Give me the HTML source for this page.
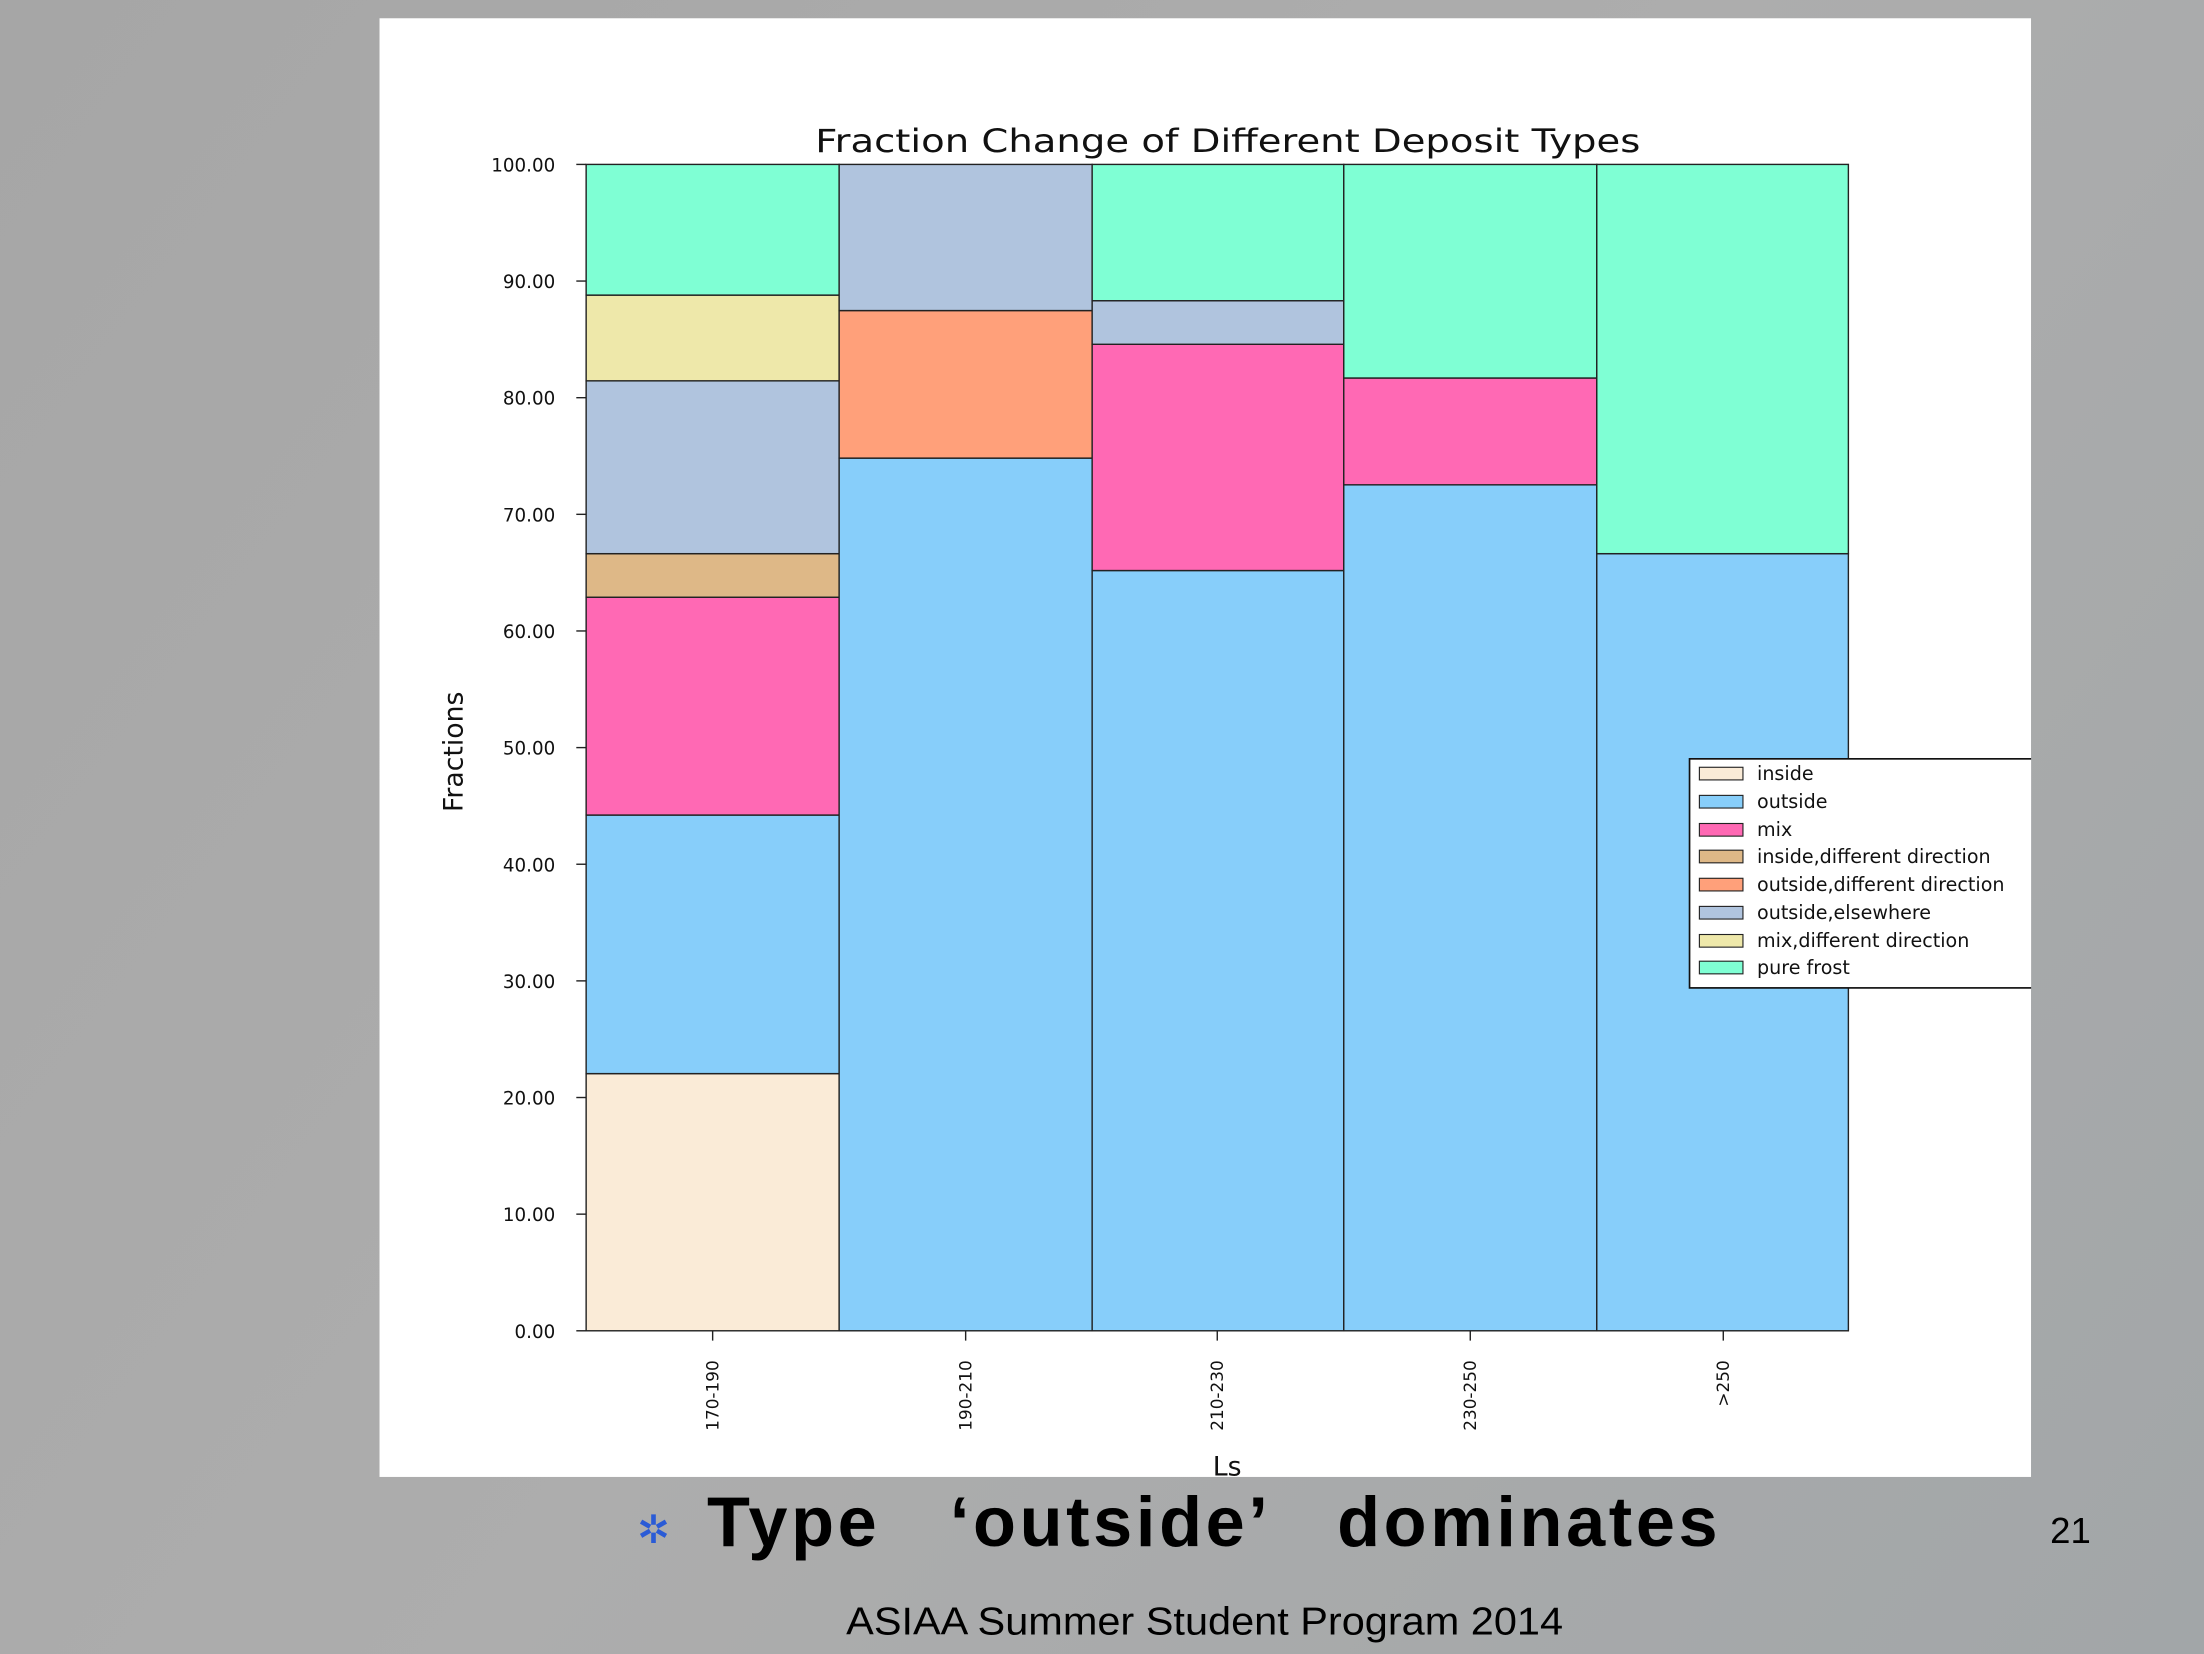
<!DOCTYPE html>
<html><head><meta charset="utf-8"><style>
html,body{margin:0;padding:0;width:2204px;height:1654px;overflow:hidden;background:#a9a9a9}
svg{display:block}
</style></head><body>
<svg width="2204" height="1654" viewBox="0 0 1568 1177" preserveAspectRatio="none" xmlns="http://www.w3.org/2000/svg" font-family="'DejaVu Sans','Liberation Sans',sans-serif">
<defs>
<linearGradient id="bg" gradientUnits="userSpaceOnUse" x1="0" y1="0" x2="1568" y2="1177">
<stop offset="0" stop-color="#a6a6a6"/><stop offset="0.5" stop-color="#adadad"/><stop offset="1" stop-color="#a2a6a8"/>
</linearGradient>
</defs>
<rect width="1568" height="1177" fill="url(#bg)"/>
<rect x="270" y="13" width="1175" height="1038" fill="#fff"/>
<text x="580" y="108" font-size="23" textLength="587" lengthAdjust="spacingAndGlyphs" fill="#111">Fraction Change of Different Deposit Types</text>
<g stroke="#222" stroke-width="1">
<rect x="417" y="764" width="180" height="183" fill="#FAEBD7"/>
<rect x="417" y="580" width="180" height="184" fill="#87CEFA"/>
<rect x="417" y="425" width="180" height="155" fill="#FF69B4"/>
<rect x="417" y="394" width="180" height="31" fill="#DEB887"/>
<rect x="417" y="271" width="180" height="123" fill="#B0C4DE"/>
<rect x="417" y="210" width="180" height="61" fill="#EEE8AA"/>
<rect x="417" y="117" width="180" height="93" fill="#7FFFD4"/>
<rect x="597" y="326" width="180" height="621" fill="#87CEFA"/>
<rect x="597" y="221" width="180" height="105" fill="#FFA07A"/>
<rect x="597" y="117" width="180" height="104" fill="#B0C4DE"/>
<rect x="777" y="406" width="179" height="541" fill="#87CEFA"/>
<rect x="777" y="245" width="179" height="161" fill="#FF69B4"/>
<rect x="777" y="214" width="179" height="31" fill="#B0C4DE"/>
<rect x="777" y="117" width="179" height="97" fill="#7FFFD4"/>
<rect x="956" y="345" width="180" height="602" fill="#87CEFA"/>
<rect x="956" y="269" width="180" height="76" fill="#FF69B4"/>
<rect x="956" y="117" width="180" height="152" fill="#7FFFD4"/>
<rect x="1136" y="394" width="179" height="553" fill="#87CEFA"/>
<rect x="1136" y="117" width="179" height="277" fill="#7FFFD4"/>
</g>
<g stroke="#222" stroke-width="1">
<line x1="410" y1="117" x2="417" y2="117"/><line x1="410" y1="200" x2="417" y2="200"/><line x1="410" y1="283" x2="417" y2="283"/><line x1="410" y1="366" x2="417" y2="366"/><line x1="410" y1="449" x2="417" y2="449"/><line x1="410" y1="532" x2="417" y2="532"/><line x1="410" y1="615" x2="417" y2="615"/><line x1="410" y1="698" x2="417" y2="698"/><line x1="410" y1="781" x2="417" y2="781"/><line x1="410" y1="864" x2="417" y2="864"/><line x1="410" y1="947" x2="417" y2="947"/>
<line x1="507" y1="947" x2="507" y2="954"/><line x1="687" y1="947" x2="687" y2="954"/><line x1="866" y1="947" x2="866" y2="954"/><line x1="1046" y1="947" x2="1046" y2="954"/><line x1="1226" y1="947" x2="1226" y2="954"/>
</g>
<g font-size="13" fill="#111" text-anchor="end">
<text x="395" y="122">100.00</text><text x="395" y="205">90.00</text><text x="395" y="288">80.00</text><text x="395" y="371">70.00</text><text x="395" y="454">60.00</text><text x="395" y="537">50.00</text><text x="395" y="620">40.00</text><text x="395" y="703">30.00</text><text x="395" y="786">20.00</text><text x="395" y="869">10.00</text><text x="395" y="952">0.00</text>
</g>
<g font-size="12" fill="#111" text-anchor="end">
<text transform="translate(511,968) rotate(-90)">170-190</text>
<text transform="translate(691,968) rotate(-90)">190-210</text>
<text transform="translate(870,968) rotate(-90)">210-230</text>
<text transform="translate(1050,968) rotate(-90)">230-250</text>
<text transform="translate(1230,968) rotate(-90)">&gt;250</text>
</g>
<text transform="translate(329,535) rotate(-90)" font-size="19" text-anchor="middle" fill="#111">Fractions</text>
<text x="873" y="1050" font-size="19" text-anchor="middle" fill="#111">Ls</text>
<rect x="1202" y="540" width="250" height="163" fill="#fff" stroke="#111" stroke-width="1.2"/>
<g stroke="#222" stroke-width="0.8">
<rect x="1209" y="546" width="31" height="9" fill="#FAEBD7"/>
<rect x="1209" y="566" width="31" height="9" fill="#87CEFA"/>
<rect x="1209" y="586" width="31" height="9" fill="#FF69B4"/>
<rect x="1209" y="605" width="31" height="9" fill="#DEB887"/>
<rect x="1209" y="625" width="31" height="9" fill="#FFA07A"/>
<rect x="1209" y="645" width="31" height="9" fill="#B0C4DE"/>
<rect x="1209" y="665" width="31" height="9" fill="#EEE8AA"/>
<rect x="1209" y="684" width="31" height="9" fill="#7FFFD4"/>
</g>
<g font-size="13.6" fill="#111">
<text x="1250" y="555">inside</text><text x="1250" y="575">outside</text><text x="1250" y="595">mix</text><text x="1250" y="614">inside,different direction</text><text x="1250" y="634">outside,different direction</text><text x="1250" y="654">outside,elsewhere</text><text x="1250" y="674">mix,different direction</text><text x="1250" y="693">pure frost</text>
</g>
<rect x="1445" y="0" width="123" height="1177" fill="url(#bg)"/>
<text x="465" y="1098" font-size="28" fill="#2a5bd6" text-anchor="middle" font-family="'DejaVu Sans',sans-serif">✲</text>
<text x="503" y="1100" font-size="50" font-weight="bold" fill="#000" textLength="719" lengthAdjust="spacing" font-family="'Liberation Sans','Noto Sans CJK SC',sans-serif" xml:space="preserve">Type   ‘outside’   dominates</text>
<text x="1473" y="1098" font-size="26" text-anchor="middle" fill="#000" font-family="'Liberation Sans',sans-serif">21</text>
<text x="602" y="1163" font-size="28" textLength="510" lengthAdjust="spacingAndGlyphs" fill="#000" font-family="'Liberation Sans',sans-serif">ASIAA Summer Student Program 2014</text>
</svg>
</body></html>
